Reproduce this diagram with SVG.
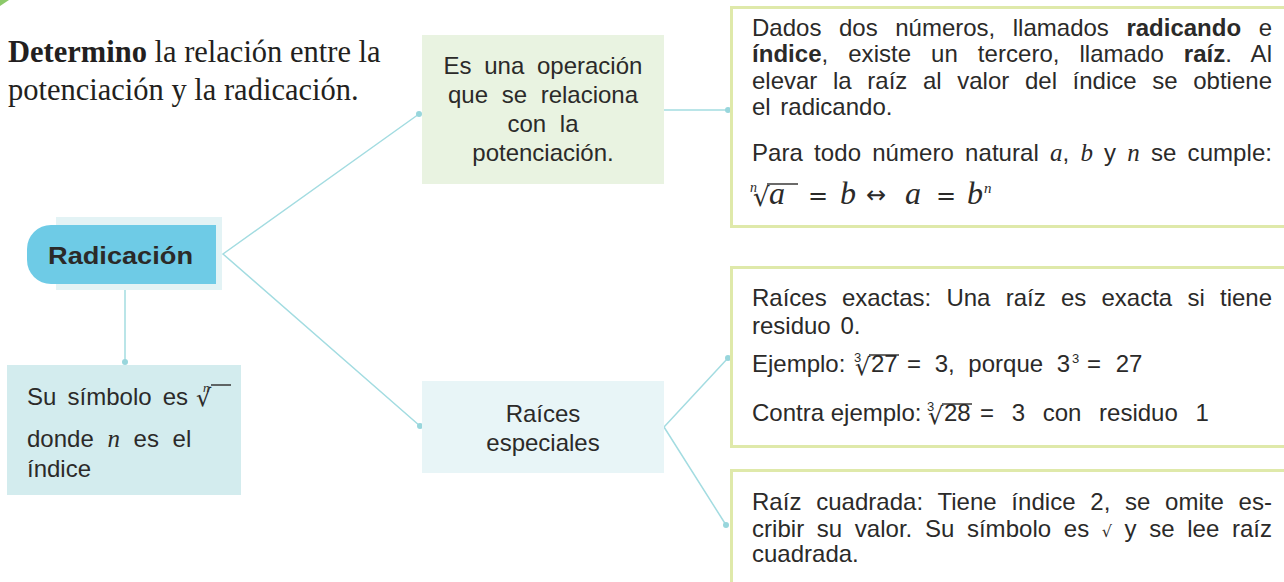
<svg xmlns="http://www.w3.org/2000/svg" width="1284" height="582" viewBox="0 0 1284 582">
<style>
.t{font-family:"Liberation Sans",Arial,sans-serif;font-size:24px;fill:#2b2a29}
.b{font-weight:bold}
.m{font-family:"Liberation Serif","Times New Roman",serif;font-style:italic}
.sy{font-family:"DejaVu Sans",sans-serif;fill:#2b2a29}
.ix{font-family:"Liberation Sans",Arial,sans-serif;font-size:13px;fill:#2b2a29}
.ti{font-family:"Liberation Serif","Times New Roman",serif;font-size:30.5px;fill:#231f20}
.conn{stroke:#a3dce1;stroke-width:1.5;fill:none}
.dot{fill:#98d6dc}
.frame{fill:#fff;stroke:#dfe9aa;stroke-width:3}
.bar{stroke:#2b2a29;stroke-width:1.4}
</style>
<path d="M0 0H9L0 6Z" fill="#8cc96a"/>
<g id="title">
<text class="ti" x="8" y="62"><tspan font-weight="bold">Determino</tspan> la relación entre la</text>
<text class="ti" x="8" y="100">potenciación y la radicación.</text>
</g>
<g id="connectors">
<polyline class="conn" points="419,114 223,254 420,426"/>
<line class="conn" x1="125" y1="290" x2="125" y2="362"/>
<line class="conn" x1="664" y1="110" x2="728" y2="110"/>
<polyline class="conn" points="728,358 664,427 726,525"/>
<circle class="dot" cx="419" cy="114" r="3"/>
<circle class="dot" cx="420" cy="426" r="3"/>
<circle class="dot" cx="125" cy="362" r="3"/>
<circle class="dot" cx="728" cy="110" r="3"/>
<circle class="dot" cx="728" cy="358" r="3"/>
<circle class="dot" cx="726" cy="525" r="3"/>
</g>
<g id="radicacion">
<rect x="56" y="217" width="166" height="73" fill="#e3f3f5"/>
<path d="M51 225H216V284H51A24 24 0 0 1 27 260V249A24 24 0 0 1 51 225Z" fill="#6ecbe6"/>
<text class="t b" x="48" y="264" font-size="30" textLength="145" lengthAdjust="spacingAndGlyphs">Radicación</text>
</g>
<g id="simbolo">
<rect x="7" y="365" width="234" height="130" fill="#d3ecee"/>
<text class="t" x="27" y="405" word-spacing="4.5">Su símbolo es</text>
<text class="sy" x="196" y="406" font-size="24">√</text>
<text class="m" x="203" y="392" font-size="13" fill="#2b2a29">n</text>
<line class="bar" x1="211" y1="385" x2="231" y2="385"/>
<text class="t" x="27" y="447" word-spacing="7">donde <tspan class="m" font-size="25">n</tspan> es el</text>
<text class="t" x="27" y="477">índice</text>
</g>
<g id="operacion">
<rect x="422" y="35" width="242" height="149" fill="#e9f3e1"/>
<text class="t" x="543" y="74" text-anchor="middle" word-spacing="6">Es una operación</text>
<text class="t" x="543" y="103" text-anchor="middle" word-spacing="7">que se relaciona</text>
<text class="t" x="543" y="132" text-anchor="middle" word-spacing="7">con la</text>
<text class="t" x="543" y="161" text-anchor="middle">potenciación.</text>
</g>
<g id="especiales">
<rect x="422" y="381" width="242" height="92" fill="#e8f5f7"/>
<text class="t" x="543" y="422" text-anchor="middle">Raíces</text>
<text class="t" x="543" y="451" text-anchor="middle">especiales</text>
</g>
<g id="definicion">
<rect class="frame" x="731.5" y="7.5" width="580" height="219"/>
<text class="t" x="752" y="36" word-spacing="10.9" textLength="520" lengthAdjust="spacing">Dados dos números, llamados <tspan class="b">radicando</tspan> e</text>
<text class="t" x="752" y="62" word-spacing="13.3" textLength="520" lengthAdjust="spacing"><tspan class="b">índice</tspan>, existe un tercero, llamado <tspan class="b">raíz</tspan>. Al</text>
<text class="t" x="752" y="89" word-spacing="9" textLength="520" lengthAdjust="spacing">elevar la raíz al valor del índice se obtiene</text>
<text class="t" x="752" y="115" word-spacing="3">el radicando.</text>
<text class="t" x="752" y="161" word-spacing="4.4" textLength="520" lengthAdjust="spacing">Para todo número natural <tspan class="m" font-size="25">a</tspan>, <tspan class="m" font-size="25">b</tspan> y <tspan class="m" font-size="25">n</tspan> se cumple:</text>
<g fill="#2b2a29">
<text class="m" x="750" y="192" font-size="14">n</text>
<text class="sy" x="753" y="206" font-size="26">√</text>
<line class="bar" x1="767" y1="184" x2="798" y2="184"/>
<text class="m" x="769" y="204" font-size="32">a</text>
<text class="sy" x="808" y="204" font-size="24">=</text>
<text class="m" x="840" y="204" font-size="32">b</text>
<text class="sy" x="866" y="203" font-size="24">↔</text>
<text class="m" x="905" y="204" font-size="32">a</text>
<text class="sy" x="936" y="204" font-size="24">=</text>
<text class="m" x="967" y="204" font-size="32">b</text>
<text class="m" x="984" y="193" font-size="15">n</text>
</g>
</g>
<g id="exactas">
<rect class="frame" x="731.5" y="267.5" width="580" height="179"/>
<text class="t" x="752" y="306" word-spacing="8.6" textLength="520" lengthAdjust="spacing">Raíces exactas: Una raíz es exacta si tiene</text>
<text class="t" x="752" y="334" word-spacing="3">residuo 0.</text>
<text class="t" x="752" y="372">Ejemplo:</text>
<text class="sy" x="855" y="375" font-size="24">√</text>
<text class="ix" x="854" y="362">3</text>
<line class="bar" x1="869" y1="355" x2="899" y2="355"/>
<text class="t" x="871" y="372">27</text>
<text class="t" x="907" y="372" word-spacing="7">= 3, porque 3</text>
<text class="ix" x="1072" y="363">3</text>
<text class="t" x="1087" y="372" word-spacing="8">= 27</text>
<text class="t" x="752" y="421">Contra ejemplo:</text>
<text class="sy" x="928" y="424" font-size="24">√</text>
<text class="ix" x="927" y="411">3</text>
<line class="bar" x1="942" y1="404" x2="972" y2="404"/>
<text class="t" x="944" y="421">28</text>
<text class="t" x="980" y="421" word-spacing="11">= 3 con residuo 1</text>
</g>
<g id="cuadrada">
<rect class="frame" x="731.5" y="470.5" width="580" height="150"/>
<text class="t" x="752" y="510" word-spacing="8" textLength="520" lengthAdjust="spacing">Raíz cuadrada: Tiene índice 2, se omite es-</text>
<text class="t" x="752" y="537" word-spacing="5.9" textLength="520" lengthAdjust="spacing">cribir su valor. Su símbolo es <tspan class="sy" font-size="16">√</tspan> y se lee raíz</text>
<text class="t" x="752" y="562">cuadrada.</text>
</g>
</svg>
